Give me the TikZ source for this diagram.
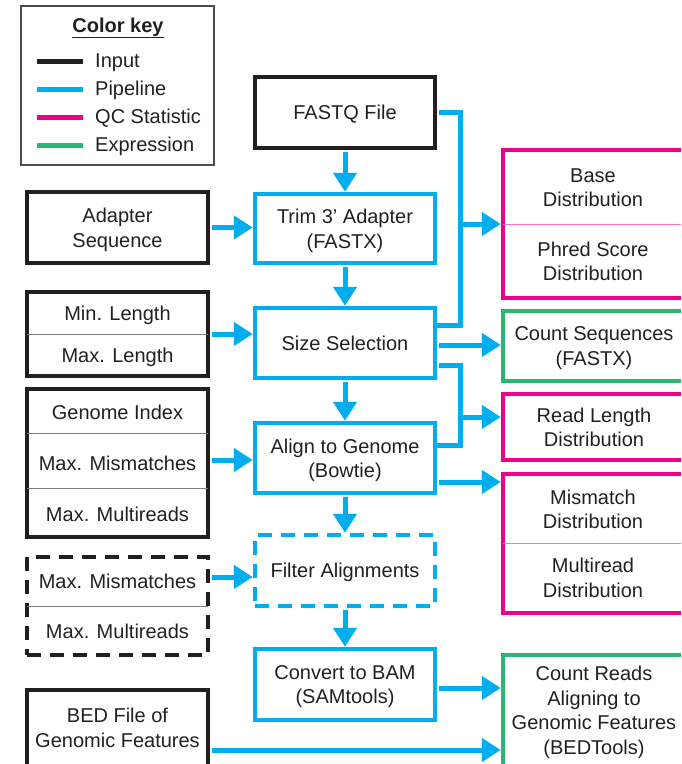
\documentclass[tikz,border=0pt]{standalone}
\usepackage{fontspec}
\setmainfont{Liberation Sans}
\usetikzlibrary{arrows.meta,calc}
\definecolor{inblack}{HTML}{231F20}
\definecolor{pipeblue}{HTML}{00AEEF}
\definecolor{qcpink}{HTML}{EC008C}
\definecolor{exgreen}{HTML}{2BB673}
\begin{document}
\begin{tikzpicture}[x=1pt,y=-1pt,
  txt/.style={font=\fontsize{20}{24.5}\selectfont, text=inblack, align=center, inner sep=0pt, text depth=0pt},
  inbox/.style={txt, draw=inblack, line width=4.5pt},
  pipebox/.style={txt, draw=pipeblue, line width=4.5pt},
  qcbox/.style={txt, draw=qcpink, line width=4.5pt},
  exbox/.style={txt, draw=exgreen, line width=4.5pt},
  dashbox/.style={dash pattern=on 14pt off 9pt},
  divider/.style={draw=gray, line width=1pt, shorten <=2pt, shorten >=2pt},
  qcdivider/.style={draw=qcpink!55, line width=1pt, shorten <=2pt, shorten >=2pt},
  link/.style={draw=pipeblue, line width=5pt, shorten <=2pt},
  arr/.style={link, -{Triangle[width=23pt,length=19pt]}},
  swatch/.style={line width=5pt}
]
\useasboundingbox (0,0) rectangle (681,764);
\clip (0,0) rectangle (681,764);

% ---------- colour key ----------
\node[draw=inblack!80, line width=1.2pt, minimum width=193pt, minimum height=159pt, inner sep=0pt] (key) at (117.5,85.5) {};
\node[txt, font=\bfseries\fontsize{20}{24}\selectfont, anchor=base] (keytitle) at (118,32) {\underline{Color key}};
\node[txt, anchor=base west] (kin) at (95,67.5) {Input};
\node[txt, anchor=base west] (kpipe) at (95,95.5) {Pipeline};
\node[txt, anchor=base west] (kqc) at (95,123.5) {QC Statistic};
\node[txt, anchor=base west] (kex) at (95,151.5) {Expression};
\draw[swatch, inblack] (37,61.5) -- (83,61.5);
\draw[swatch, pipeblue] (37,89.5) -- (83,89.5);
\draw[swatch, qcpink] (37,117.5) -- (83,117.5);
\draw[swatch, exgreen] (37,145.5) -- (83,145.5);

% ---------- pipeline column ----------
\node[inbox, text depth=-4pt, minimum width=180pt, minimum height=71pt] (fastq) at (345,112.5) {FASTQ File};
\node[pipebox, text depth=-3pt, minimum width=180pt, minimum height=69pt] (trim) at (345,228.5) {Trim 3’ Adapter\\(FASTX)};
\node[pipebox, text depth=-3pt, minimum width=180pt, minimum height=70pt] (sizesel) at (345,343) {Size Selection};
\node[pipebox, text depth=-1pt, minimum width=180pt, minimum height=70pt] (align) at (345,458) {Align to Genome\\(Bowtie)};
\node[pipebox, dashbox, text depth=-2pt, minimum width=180pt, minimum height=71pt] (filter) at (345,570.5) {Filter Alignments};
\node[pipebox, text depth=-3pt, minimum width=180pt, minimum height=71pt] (bam) at (345,684.5) {Convert to BAM\\(SAMtools)};

% ---------- input column ----------
\node[inbox, text depth=-1pt, minimum width=181pt, minimum height=71pt] (adapter) at (117.5,227.5) {Adapter\\Sequence};

\node[inbox, minimum width=181pt, minimum height=84pt] (minmax) at (117.5,334) {};
\draw[divider] (minmax.west) -- (minmax.east);
\node[txt] (minlen) at (117.5,313.5) {Min. Length};
\node[txt] (maxlen) at (117.5,355) {Max. Length};

\node[inbox, minimum width=181pt, minimum height=148pt] (genome) at (117.5,463) {};
\draw[divider] ([yshift=30pt]genome.west) -- ([yshift=30pt]genome.east);
\draw[divider] ([yshift=-25pt]genome.west) -- ([yshift=-25pt]genome.east);
\node[txt] (gindex) at (117.5,412.5) {Genome Index};
\node[txt] (gmis) at (117.5,463) {Max. Mismatches};
\node[txt] (gmulti) at (117.5,514.5) {Max. Multireads};

\node[inbox, dashbox, minimum width=181pt, minimum height=98pt] (filtparams) at (117.5,606) {};
\draw[divider] (filtparams.west) -- (filtparams.east);
\node[txt] (fmis) at (117.5,581) {Max. Mismatches};
\node[txt] (fmulti) at (117.5,631.5) {Max. Multireads};

\node[inbox, text depth=5pt, minimum width=181pt, minimum height=80pt] (bed) at (117.5,730) {BED File of\\Genomic Features};

% ---------- output column ----------
\node[qcbox, minimum width=182pt, minimum height=148pt] (qcbase) at (594,224) {};
\draw[qcdivider] (qcbase.west) -- (qcbase.east);
\node[txt] (tbase) at (593,187.5) {Base\\Distribution};
\node[txt] (tphred) at (593,261) {Phred Score\\Distribution};

\node[exbox, text depth=-3pt, minimum width=182pt, minimum height=70pt] (countseq) at (594,346) {Count Sequences\\(FASTX)};
\node[qcbox, text depth=-2pt, minimum width=182pt, minimum height=66pt] (readlen) at (594,427) {Read Length\\Distribution};

\node[qcbox, minimum width=182pt, minimum height=139pt] (qcalign) at (594,543.5) {};
\draw[qcdivider] (qcalign.west) -- (qcalign.east);
\node[txt] (tmis) at (593,509) {Mismatch\\Distribution};
\node[txt] (tmulti) at (593,577.5) {Multiread\\Distribution};

\node[exbox, text depth=5pt, minimum width=182pt, minimum height=115pt] (countreads) at (594,712.5) {Count Reads\\Aligning to\\Genomic Features\\(BEDTools)};

% ---------- connectors ----------
\draw[arr] (fastq.south) -- (trim.north);
\draw[arr] (trim.south) -- (sizesel.north);
\draw[arr] (sizesel.south) -- (align.north);
\draw[arr] (align.south) -- (filter.north);
\draw[arr] (filter.south) -- (bam.north);

\draw[arr] (adapter.east) -- (adapter.east -| trim.west);
\draw[arr] (minmax.east) -- (minmax.east -| sizesel.west);
\coordinate (g1) at ([yshift=3pt]genome.east);
\draw[arr] (g1) -- (g1 -| align.west);
\coordinate (f1) at ([yshift=29pt]filtparams.east);
\draw[arr] (f1) -- (f1 -| filter.west);

\coordinate (j1) at (460,224);
\coordinate (j2) at (460,417);
\draw[link] (fastq.east) -| (j1) |- ([yshift=18pt]sizesel.east);
\draw[arr] (j1) -- (j1 -| qcbase.west);
\coordinate (s1) at ([yshift=-2pt]sizesel.east);
\draw[arr] (s1) -- (s1 -| countseq.west);
\draw[link] ([yshift=-22pt]sizesel.east) -| (j2) |- ([yshift=13pt]align.east);
\draw[arr] (j2) -- (j2 -| readlen.west);
\coordinate (a1) at ([yshift=-24pt]align.east);
\draw[arr] (a1) -- (a1 -| qcalign.west);
\coordinate (b1) at ([yshift=-3.5pt]bam.east);
\draw[arr] (b1) -- (b1 -| countreads.west);
\coordinate (e1) at ([yshift=-20pt]bed.east);
\draw[arr] (e1) -- (e1 -| countreads.west);
\end{tikzpicture}
\end{document}
